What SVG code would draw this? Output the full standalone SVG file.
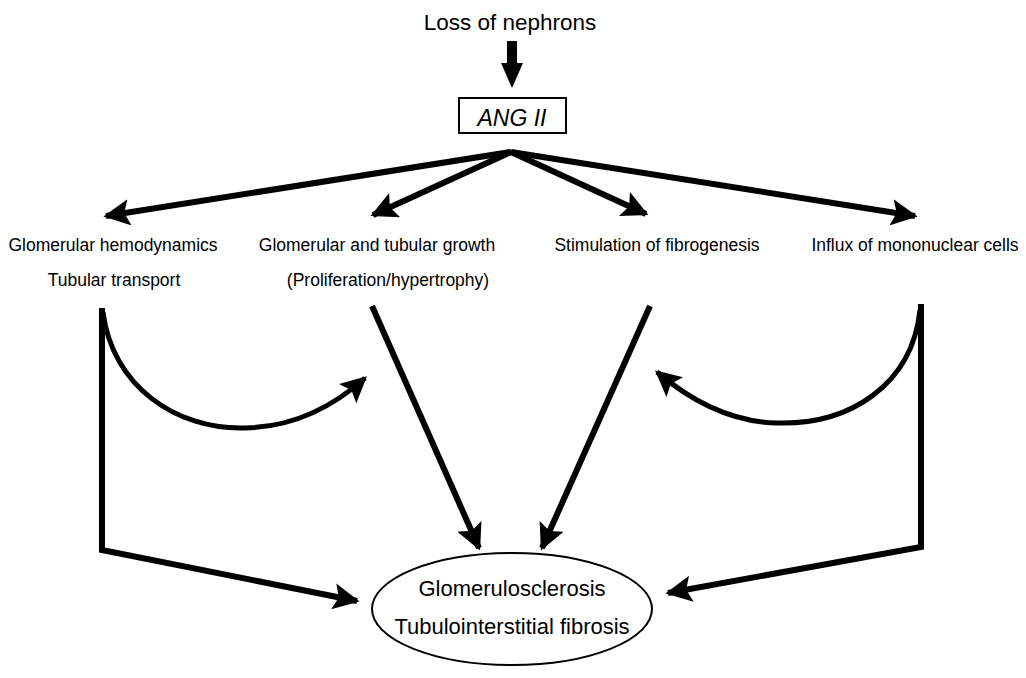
<svg xmlns="http://www.w3.org/2000/svg" width="1026" height="678" viewBox="0 0 1026 678">
<style>
text{font-family:"Liberation Sans",Arial,sans-serif;fill:#000}
.lbl{font-size:17.5px;text-anchor:middle}
.big{font-size:22px;text-anchor:middle}
.ln{fill:none;stroke:#000;stroke-width:6;stroke-linejoin:miter}
.cv{fill:none;stroke:#000;stroke-width:5}
</style>
<defs>
<marker id="ah" viewBox="0 0 10 10" refX="9" refY="5" markerWidth="4.4" markerHeight="4.4" orient="auto" markerUnits="strokeWidth">
<path d="M0,0 L10,5 L0,10 L2,5 z" fill="#000"/>
</marker>
<marker id="ah2" viewBox="0 0 10 10" refX="9" refY="5" markerWidth="5.2" markerHeight="5.2" orient="auto" markerUnits="strokeWidth">
<path d="M0,0 L10,5 L0,10 L2,5 z" fill="#000"/>
</marker>
</defs>
<rect width="1026" height="678" fill="#fff"/>
<g id="loss">
<text x="510" y="30" style="font-size:22.5px;text-anchor:middle">Loss of nephrons</text>
</g>
<g id="angii">
<rect x="459" y="98" width="107" height="35" fill="#fff" stroke="#000" stroke-width="2"/>
<text x="512" y="126" style="font-size:23px;font-style:italic;text-anchor:middle">ANG II</text>
</g>
<g id="n1">
<text class="lbl" x="113" y="251">Glomerular hemodynamics</text>
<text class="lbl" x="114" y="286">Tubular transport</text>
</g>
<g id="n2">
<text class="lbl" x="377" y="251">Glomerular and tubular growth</text>
<text class="lbl" x="388" y="286">(Proliferation/hypertrophy)</text>
</g>
<g id="n3">
<text class="lbl" x="657" y="251">Stimulation of fibrogenesis</text>
</g>
<g id="n4">
<text class="lbl" x="915" y="251">Influx of mononuclear cells</text>
</g>
<g id="outcome">
<ellipse cx="512" cy="609" rx="140" ry="56" fill="#fff" stroke="#000" stroke-width="2"/>
<text class="big" x="512" y="596">Glomerulosclerosis</text>
<text class="big" x="512" y="634">Tubulointerstitial fibrosis</text>
</g>
<g id="connectors">
<polygon points="507,41 517,41 517,63 523,63 512,88 501,63 507,63" fill="#000"/>
<path class="ln" d="M511,152 L106,216" marker-end="url(#ah)"/>
<path class="ln" d="M511,152 L373,215" marker-end="url(#ah)"/>
<path class="ln" d="M511,152 L646,214" marker-end="url(#ah)"/>
<path class="ln" d="M511,152 L915,216" marker-end="url(#ah)"/>
<path class="ln" d="M102,308 L102,550 L357,601" marker-end="url(#ah)"/>
<path class="ln" d="M372,306 L479,548" marker-end="url(#ah)"/>
<path class="ln" d="M650,306 L542,548" marker-end="url(#ah)"/>
<path class="ln" d="M921,304 L921,547 L668,593" marker-end="url(#ah)"/>
<path class="cv" d="M103,312 C112,385 175,430 245,428 C295,427 335,405 365,378" marker-end="url(#ah2)"/>
<path class="cv" d="M920,310 C912,385 850,425 777,423 C730,422 690,400 657,372" marker-end="url(#ah2)"/>
</g>
</svg>
